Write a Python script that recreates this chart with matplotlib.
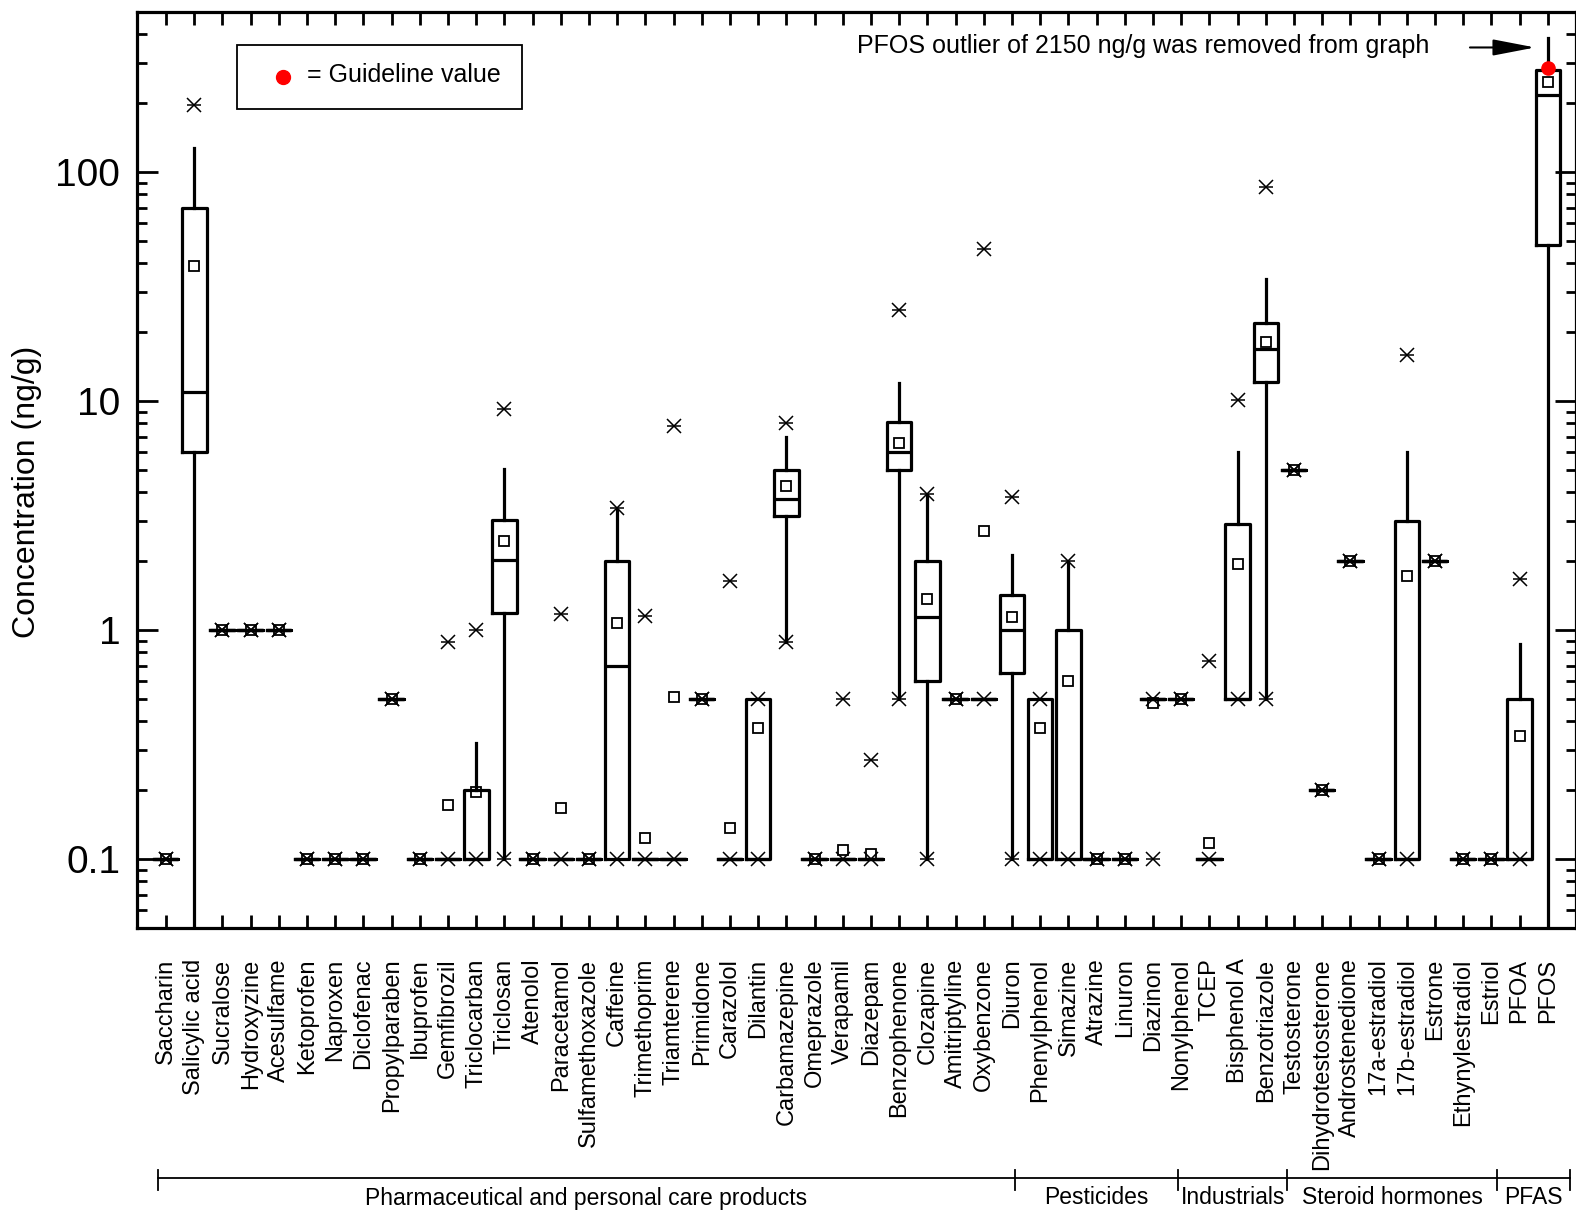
import matplotlib
matplotlib.use('Agg')
import matplotlib.pyplot as plt
import matplotlib.transforms as mtransforms
from matplotlib.ticker import FixedLocator, FixedFormatter, LogLocator, NullFormatter
import numpy as np

plt.rcParams['font.family'] = ['Liberation Sans', 'DejaVu Sans']

# ---------------- data ----------------
compounds = ['Saccharin', 'Salicylic acid', 'Sucralose', 'Hydroxyzine', 'Acesulfame',
             'Ketoprofen', 'Naproxen', 'Diclofenac', 'Propylparaben', 'Ibuprofen',
             'Gemfibrozil', 'Triclocarban', 'Triclosan', 'Atenolol', 'Paracetamol',
             'Sulfamethoxazole', 'Caffeine', 'Trimethoprim', 'Triamterene', 'Primidone',
             'Carazolol', 'Dilantin', 'Carbamazepine', 'Omeprazole', 'Verapamil',
             'Diazepam', 'Benzophenone', 'Clozapine', 'Amitriptyline', 'Oxybenzone',
             'Diuron', 'Phenylphenol', 'Simazine', 'Atrazine', 'Linuron',
             'Diazinon', 'Nonylphenol', 'TCEP', 'Bisphenol A', 'Benzotriazole',
             'Testosterone', 'Dihydrotestosterone', 'Androstenedione', '17a-estradiol', '17b-estradiol',
             'Estrone', 'Ethynylestradiol', 'Estriol', 'PFOA', 'PFOS']

q1 = [0.1, 6.0, 1.0, 1.0, 1.0, 0.1, 0.1, 0.1, 0.5, 0.1,
      0.1, 0.1, 1.19, 0.1, 0.1, 0.1, 0.1, 0.1, 0.1, 0.5,
      0.1, 0.1, 3.15, 0.1, 0.1, 0.1, 5.0, 0.6, 0.5, 0.5,
      0.65, 0.1, 0.1, 0.1, 0.1, 0.5, 0.5, 0.1, 0.5, 12.1,
      5.0, 0.2, 2.0, 0.1, 0.1, 2.0, 0.1, 0.1, 0.1, 48.0]
median = [0.1, 11.0, 1.0, 1.0, 1.0, 0.1, 0.1, 0.1, 0.5, 0.1,
          0.1, 0.1, 2.02, 0.1, 0.1, 0.1, 0.7, 0.1, 0.1, 0.5,
          0.1, 0.1, 3.73, 0.1, 0.1, 0.1, 5.97, 1.14, 0.5, 0.5,
          1.0, 0.1, 0.1, 0.1, 0.1, 0.5, 0.5, 0.1, 0.5, 16.8,
          5.0, 0.2, 2.0, 0.1, 0.1, 2.0, 0.1, 0.1, 0.1, 216.0]
q3 = [0.1, 70.0, 1.0, 1.0, 1.0, 0.1, 0.1, 0.1, 0.5, 0.1,
      0.1, 0.2, 3.02, 0.1, 0.1, 0.1, 2.0, 0.1, 0.1, 0.5,
      0.1, 0.5, 5.02, 0.1, 0.1, 0.1, 8.14, 2.0, 0.5, 0.5,
      1.42, 0.5, 1.0, 0.1, 0.1, 0.5, 0.5, 0.1, 2.91, 22.0,
      5.0, 0.2, 2.0, 0.1, 3.0, 2.0, 0.1, 0.1, 0.5, 278.0]
mean = [0.1, 39.0, 1.0, 1.0, 1.0, 0.1, 0.1, 0.1, 0.5, 0.1,
        0.173, 0.197, 2.44, 0.1, 0.167, 0.1, 1.07, 0.124, 0.508, 0.5,
        0.137, 0.375, 4.25, 0.1, 0.11, 0.105, 6.55, 1.36, 0.5, 2.7,
        1.14, 0.375, 0.6, 0.1, 0.1, 0.48, 0.5, 0.118, 1.95, 18.1,
        5.0, 0.2, 2.0, 0.1, 1.73, 2.0, 0.1, 0.1, 0.345, 247.0]
whisker_low = [0.1, 0.01, 1.0, 1.0, 1.0, 0.1, 0.1, 0.1, 0.5, 0.1,
               0.1, 0.1, 0.1, 0.1, 0.1, 0.1, 0.1, 0.1, 0.1, 0.5,
               0.1, 0.1, 0.89, 0.1, 0.1, 0.1, 0.5, 0.1, 0.5, 0.5,
               0.1, 0.1, 0.1, 0.1, 0.1, 0.5, 0.5, 0.1, 0.5, 0.5,
               5.0, 0.2, 2.0, 0.1, 0.1, 2.0, 0.1, 0.1, 0.1, 0.01]
whisker_high = [0.1, 128.0, 1.0, 1.0, 1.0, 0.1, 0.1, 0.1, 0.5, 0.1,
                0.1, 0.32, 5.06, 0.1, 0.1, 0.1, 3.35, 0.1, 0.1, 0.5,
                0.1, 0.5, 7.0, 0.1, 0.1, 0.1, 12.0, 3.9, 0.5, 0.5,
                2.12, 0.5, 1.99, 0.1, 0.1, 0.5, 0.5, 0.1, 5.97, 34.2,
                5.0, 0.2, 2.0, 0.1, 6.0, 2.0, 0.1, 0.1, 0.867, 386.0]
minimum = [0.1, 0.01, 1.0, 1.0, 1.0, 0.1, 0.1, 0.1, 0.5, 0.1,
           0.1, 0.1, 0.1, 0.1, 0.1, 0.1, 0.1, 0.1, 0.1, 0.5,
           0.1, 0.1, 0.89, 0.1, 0.1, 0.1, 0.5, 0.1, 0.5, 0.5,
           0.1, 0.1, 0.1, 0.1, 0.1, 0.1, 0.5, 0.1, 0.5, 0.5,
           5.0, 0.2, 2.0, 0.1, 0.1, 2.0, 0.1, 0.1, 0.1, 0.01]
maximum = [0.1, 196.0, 1.0, 1.0, 1.0, 0.1, 0.1, 0.1, 0.5, 0.1,
           0.89, 1.0, 9.2, 0.1, 1.17, 0.1, 3.4, 1.15, 7.8, 0.5,
           1.64, 0.5, 8.06, 0.1, 0.5, 0.27, 25.0, 3.93, 0.5, 46.0,
           3.8, 0.5, 2.0, 0.1, 0.1, 0.5, 0.5, 0.73, 10.1, 86.3,
           5.0, 0.2, 2.0, 0.1, 15.9, 2.0, 0.1, 0.1, 1.67, np.nan]  # PFOS max (2150) removed

guideline_compound = ['PFOS']
guideline_value = [285.0]

groups = ['Pharmaceutical and personal care products', 'Pesticides', 'Industrials',
          'Steroid hormones', 'PFAS']
group_edges = [-0.3, 30.1, 35.9, 39.75, 47.2, 49.8]

ytick_values = [0.1, 1, 10, 100]
ytick_labels = ['0.1', '1', '10', '100']

# ---------------- figure ----------------
W, H = 1576, 1210
fig = plt.figure(figsize=(W / 100, H / 100), dpi=100)
ax_l, ax_r, ax_t, ax_b = 137, 1576, 12, 928
AW, AH = ax_r - ax_l, ax_b - ax_t
ax = fig.add_axes([ax_l / W, 1 - ax_b / H, AW / W, AH / H])

pos = np.arange(len(compounds))
stats = []
for i in range(len(compounds)):
    stats.append(dict(med=median[i], q1=q1[i], q3=q3[i], whislo=whisker_low[i],
                      whishi=whisker_high[i], mean=mean[i], label=compounds[i]))

lw = 2.3
ax.bxp(stats, positions=pos, widths=0.87, showmeans=True, showcaps=False,
       showfliers=False, manage_ticks=False,
       boxprops=dict(color='k', linewidth=lw),
       medianprops=dict(color='k', linewidth=lw),
       whiskerprops=dict(color='k', linewidth=lw),
       meanprops=dict(marker='s', markersize=7.5, markerfacecolor='none',
                      markeredgecolor='k', markeredgewidth=1.3))

for arr in (minimum, maximum):
    ax.plot(pos, arr, ls='none', marker='x', ms=10, mew=1.1, color='k', zorder=4)
    ax.plot(pos, arr, ls='none', marker='_', ms=10, mew=1.1, color='k', zorder=4)

g_pos = [compounds.index(c) for c in guideline_compound]
ax.plot(g_pos, guideline_value, ls='none', marker='o', ms=9.5, color='red', mec='red', zorder=5)

ax.set_yscale('log')
ax.set_ylim(0.05, 500)
ax.set_xlim(-1.03, 50.0)

ax.yaxis.set_major_locator(FixedLocator(ytick_values))
ax.yaxis.set_major_formatter(FixedFormatter(ytick_labels))
ax.yaxis.set_minor_locator(LogLocator(base=10, subs=np.arange(2, 10)))
ax.yaxis.set_minor_formatter(NullFormatter())

ax.set_xticks(pos)
ax.set_xticklabels(compounds)

ax.tick_params(axis='x', which='both', direction='in', top=True, bottom=True,
               length=9.5, width=2, labelsize=17, pad=22, labelrotation=90)
ax.tick_params(axis='y', which='major', direction='in', left=True, right=True,
               length=15, width=2, labelsize=28, pad=12)
ax.tick_params(axis='y', which='minor', direction='in', left=True, right=True,
               length=7.5, width=2)
for s in ax.spines.values():
    s.set_linewidth(2.3)

ax.set_ylabel('Concentration (ng/g)', fontsize=23)
ax.yaxis.set_label_coords((42 - ax_l) / AW, (ax_b - 492) / AH)

# legend-like box
ax.add_patch(plt.Rectangle(((237 - ax_l) / AW, (ax_b - 109) / AH),
                           (522 - 237) / AW, (109 - 45) / AH,
                           transform=ax.transAxes, fill=False, ec='k', lw=1.3, zorder=6))
ax.plot([(283 - ax_l) / AW], [(ax_b - 77) / AH], marker='o', ms=10,
        color='red', transform=ax.transAxes, zorder=7)
ax.text((307 - ax_l) / AW, (ax_b - 75) / AH, '= Guideline value',
        transform=ax.transAxes, fontsize=18, va='center', ha='left')

# outlier note and arrow
ax.text(44.8, 357, 'PFOS outlier of 2150 ng/g was removed from graph', fontsize=18,
        ha='right', va='center')
ax.annotate('', xy=(48.55, 350), xytext=(46.24, 350),
            arrowprops=dict(arrowstyle='-|>,head_length=1.3,head_width=0.25',
                            color='k', lw=1.5, mutation_scale=20, shrinkA=0, shrinkB=0))

# group bracket below the axis
trans = mtransforms.blended_transform_factory(ax.transData, ax.transAxes)
y_line = (ax_b - 1178) / AH
y_tick_top = (ax_b - 1170) / AH
y_tick_bot = (ax_b - 1190) / AH
y_text = (ax_b - 1198) / AH
ax.plot([group_edges[0], group_edges[-1]], [y_line, y_line], color='k', lw=1.3,
        transform=trans, clip_on=False)
for e in group_edges:
    ax.plot([e, e], [y_tick_top, y_tick_bot], color='k', lw=1.3, transform=trans, clip_on=False)
for g, a, b in zip(groups, group_edges[:-1], group_edges[1:]):
    ax.text((a + b) / 2, y_text, g, transform=trans, ha='center', va='center',
            fontsize=16.5)

fig.savefig('out.png', dpi=100)
